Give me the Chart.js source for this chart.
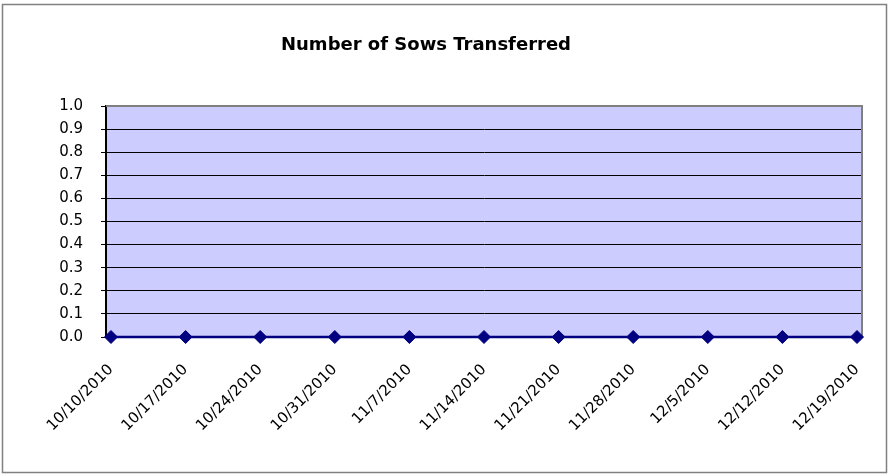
<!DOCTYPE html>
<html>
<head>
<meta charset="utf-8">
<script src="https://cdn.jsdelivr.net/npm/chart.js@4"></script>
<style>
html,body{margin:0;padding:0;background:#fff;}
canvas{display:block;}
</style>
</head>
<body>
<canvas id="c" width="888" height="474"></canvas>
<script>
const chartTitle = "Number of Sows Transferred";
const weekLabels = ["10/10/2010","10/17/2010","10/24/2010","10/31/2010","11/7/2010","11/14/2010","11/21/2010","11/28/2010","12/5/2010","12/12/2010","12/19/2010"];
const sowsTransferred = [0,0,0,0,0,0,0,0,0,0,0];
const yTicks = [0,0.1,0.2,0.3,0.4,0.5,0.6,0.7,0.8,0.9,1.0];

const FONT = "'DejaVu Sans', 'Liberation Sans', Arial, sans-serif";

const framePlugin = {
  id: 'frame',
  beforeDraw(chart) {
    const ctx = chart.ctx, a = chart.chartArea;
    ctx.save();
    ctx.fillStyle = '#fff';
    ctx.fillRect(0, 0, chart.width, chart.height);
    ctx.strokeStyle = '#808080';
    ctx.lineWidth = 1.5;
    ctx.strokeRect(2.5, 4.5, 884, 468);
    ctx.fillStyle = '#CCCCFF';
    ctx.fillRect(a.left, a.top, a.right - a.left, a.bottom - a.top);
    ctx.restore();
  },
  beforeDatasetsDraw(chart) {
    const ctx = chart.ctx, a = chart.chartArea;
    ctx.save();
    ctx.strokeStyle = '#808080';
    ctx.lineWidth = 2;
    ctx.beginPath();
    ctx.moveTo(a.left, a.top);
    ctx.lineTo(a.right, a.top);
    ctx.lineTo(a.right, a.bottom);
    ctx.stroke();
    ctx.fillStyle = '#000';
    ctx.font = 'bold 18px ' + FONT;
    ctx.textAlign = 'center';
    ctx.textBaseline = 'alphabetic';
    ctx.fillText(chartTitle, 426, 50);
    ctx.restore();
  }
};

new Chart(document.getElementById('c'), {
  type: 'line',
  data: {
    datasets: [{
      data: sowsTransferred.map((v, i) => ({x: i, y: v})),
      borderColor: '#000080',
      backgroundColor: '#000080',
      borderWidth: 2.5,
      pointStyle: 'rectRot',
      pointRadius: 6.5,
      pointBorderWidth: 1,
      pointBackgroundColor: '#000080',
      pointBorderColor: '#000080',
      tension: 0,
      clip: false
    }]
  },
  options: {
    responsive: false,
    devicePixelRatio: 1,
    animation: false,
    events: [],
    layout: {padding: {top: 106, right: 26, bottom: 0, left: 0}},
    plugins: {legend: {display: false}, title: {display: false}, tooltip: {enabled: false}},
    scales: {
      x: {
        type: 'linear',
        min: -0.067,
        max: weekLabels.length - 1 + 0.067,
        afterBuildTicks(scale) {
          scale.ticks = weekLabels.map((_, i) => ({value: i}));
        },
        afterFit(scale) {
          scale.height = 137;
          scale.paddingLeft = 0; scale.paddingRight = 0;
          scale.paddingTop = 0; scale.paddingBottom = 0;
        },
        grid: {display: false, drawTicks: false},
        border: {display: true, color: '#000', width: 1},
        ticks: {
          autoSkip: false,
          minRotation: 45,
          maxRotation: 45,
          padding: 24,
          labelOffset: 0,
          color: '#000',
          font: {family: FONT, size: 15},
          callback: (v) => weekLabels[Math.round(v)] ?? ''
        }
      },
      y: {
        min: 0,
        max: 1,
        afterBuildTicks(scale) {
          scale.ticks = yTicks.map(v => ({value: v}));
        },
        afterFit(scale) {
          scale.width = 106;
          scale.paddingTop = 0; scale.paddingBottom = 0;
        },
        grid: {
          color: (c) => (c.tick && c.tick.value >= 1) ? 'rgba(0,0,0,0)' : '#000',
          tickColor: '#000',
          lineWidth: 1,
          tickLength: 5,
          drawTicks: true
        },
        border: {display: true, color: '#000', width: 2},
        ticks: {
          padding: 18,
          color: '#000',
          font: {family: FONT, size: 15},
          callback: (v) => Number(v).toFixed(1)
        }
      }
    }
  },
  plugins: [framePlugin]
});
</script>
</body>
</html>
